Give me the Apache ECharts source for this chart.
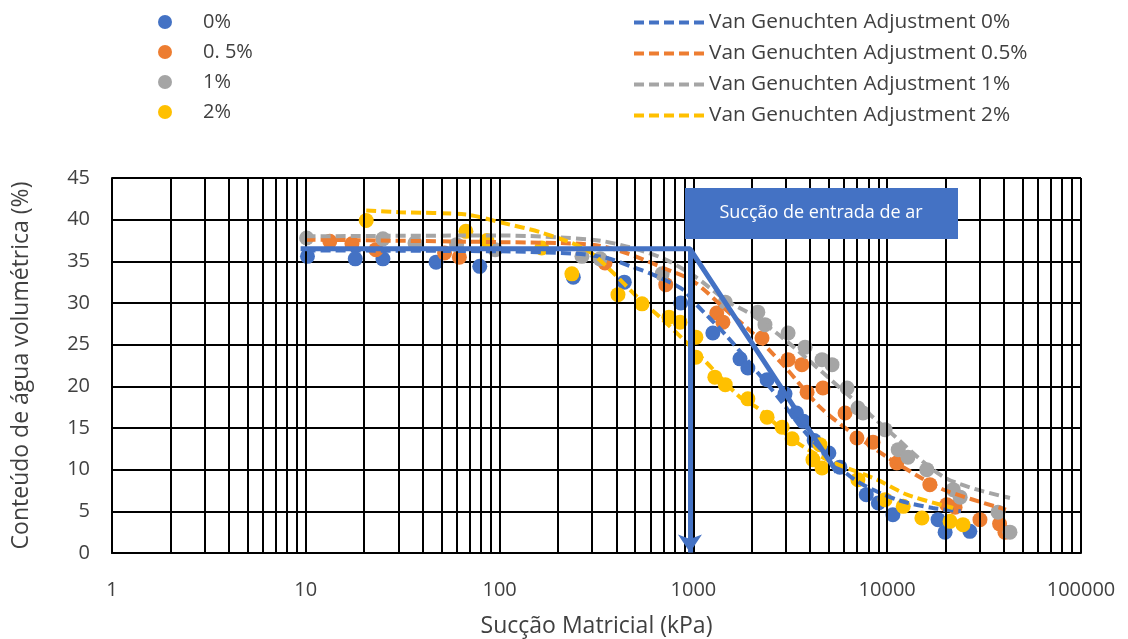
<!DOCTYPE html>
<html>
<head>
<meta charset="utf-8">
<script src="https://cdn.jsdelivr.net/npm/echarts@6/dist/echarts.min.js"></script>
<style>
html,body{margin:0;padding:0;background:#fff;}
#chart{width:1128px;height:639px;}
</style>
</head>
<body>
<div id="chart"></div>
<script>
// ---------- data (suction kPa, volumetric water content %) ----------
const seriesNames = ['0%', '0. 5%', '1%', '2%'];
const fitNames = ['Van Genuchten Adjustment 0%', 'Van Genuchten Adjustment 0.5%', 'Van Genuchten Adjustment 1%', 'Van Genuchten Adjustment 2%'];

const pts0 = [[10.2,35.6],[18,35.3],[25,35.3],[47,34.9],[79,34.4],[240,33.1],[440,32.5],[860,30.0],[1260,26.4],[1740,23.3],[1910,22.2],[2400,20.8],[2970,19.1],[3400,16.8],[3700,15.8],[4200,13.5],[5000,12.0],[5700,10.3],[7800,7.0],[9000,6.0],[10700,4.6],[18300,4.0],[19900,2.5],[26700,2.6]];
const pts05 = [[13.3,37.4],[17.3,37.1],[23,36.4],[52,36.0],[62,35.5],[350,34.8],[720,32.2],[1320,28.8],[1420,27.7],[2260,25.8],[3080,23.2],[3630,22.6],[3860,19.3],[4660,19.8],[6060,16.8],[6980,13.8],[8450,13.3],[11200,10.8],[16600,8.2],[20300,5.8],[22400,5.5],[30100,4.0],[38000,3.5],[40500,2.5]];
const pts1 = [[10.1,37.8],[25,37.7],[36.6,37.2],[60,37.0],[95,36.4],[266,35.6],[330,35.3],[690,33.5],[1460,30.1],[2150,28.9],[2340,27.4],[3080,26.4],[3770,24.7],[4610,23.2],[5190,22.6],[6210,19.8],[7060,17.4],[7500,16.8],[9750,14.8],[11400,12.4],[12800,11.5],[16000,10.0],[21900,7.6],[23800,6.7],[37300,4.9],[43000,2.5]];
const pts2 = [[20.5,39.9],[67,38.6],[86,37.5],[165,36.6],[236,33.5],[408,31.0],[543,29.9],[748,28.3],[853,27.7],[1030,25.9],[1030,23.5],[1290,21.1],[1460,20.2],[1910,18.5],[2400,16.3],[2870,15.1],[3230,13.7],[4140,11.2],[4500,13.0],[4610,10.2],[7060,8.8],[9750,6.4],[12100,5.6],[15100,4.2],[21100,3.8],[24600,3.4]];

const fit0 = [[10,36.3],[100,36.2],[250,35.9],[358,35.4],[488,34.3],[619,33.4],[884,31.6],[1000,30.2],[1490,26.0],[2000,22.5],[2800,18.4],[3680,14.8],[5000,11.5],[7000,8.6],[11250,6.4],[17200,5.4],[24000,5.0]];
const fit05 = [[10,37.6],[100,37.3],[300,37.0],[450,36.0],[700,34.2],[1000,32.6],[1500,29.0],[2000,26.5],[3000,22.2],[4500,17.5],[6500,14.5],[10000,11.5],[15000,9.0],[20000,7.5],[41000,5.2]];
const fit1 = [[10,38.0],[100,38.1],[300,37.6],[450,36.8],[690,35.4],[1000,33.3],[1500,30.2],[2000,28.6],[3000,25.5],[5000,21.0],[7000,18.0],[10000,14.8],[20000,9.0],[43000,6.6]];
const fit2 = [[20.5,41.1],[30.6,40.9],[67.7,40.6],[100,39.7],[167,38.4],[280,36.4],[371,34.0],[530,30.4],[672,28.3],[927,25.2],[1175,22.8],[1740,18.7],[2207,17.2],[3265,13.6],[4890,11.2],[8850,8.8],[12650,7.0],[21870,5.4]];

// air-entry construction (solid blue) and arrow
const airEntryLine = [[9.4,36.5],[960,36.5],[5500,9.7]];
const airEntryArrow = [[960,36.5],[960,0.05]];
const airEntryLabel = 'Sucção de entrada de ar';

// axis settings
const xMin = 1, xMax = 100000;
const yMin = 0, yMax = 45, yStep = 5;

// log grid lines 1..9 x 10^k
const xGridValues = [];
for (let p = 1; p < xMax; p *= 10) { for (let m = 1; m <= 9; m++) xGridValues.push(m * p); }
xGridValues.push(xMax);

const colors = ['#4472C4', '#ED7D31', '#A5A5A5', '#FFC000'];
const FONT = 'Open Sans';
const TXT = '#404040';

const chart = echarts.init(document.getElementById('chart'), null, {renderer: 'canvas'});

const pts = [pts0, pts05, pts1, pts2];
const fits = [fit0, fit05, fit1, fit2];

const series = [];
series.push({
  type: 'line', name: '_grid', data: [], z: 0, silent: true,
  markLine: {
    silent: true, symbol: ['none','none'], label: {show: false}, animation: false,
    lineStyle: {color: '#000', width: 2, type: 'solid'},
    data: xGridValues.map(v => ({xAxis: v}))
  }
});
pts.forEach((d, i) => series.push({
  type: 'scatter', name: seriesNames[i], data: d, symbol: 'circle', symbolSize: 15,
  itemStyle: {color: colors[i], opacity: 1}, z: 3
}));
fits.forEach((d, i) => series.push({
  type: 'line', name: fitNames[i], data: d, symbol: 'none', showSymbol: false, smooth: 0.3,
  lineStyle: {color: colors[i], width: 4, type: [10, 5]}, itemStyle: {color: colors[i]}, z: 4
}));
series.push({
  type: 'line', name: '_air', data: airEntryLine, symbol: 'none', showSymbol: false,
  lineStyle: {color: '#4472C4', width: 5}, z: 5, silent: true
});
series.push({
  type: 'line', name: '_arrow', data: [], z: 5, silent: true,
  markLine: {
    silent: true, animation: false, symbol: ['none', 'arrow'], symbolSize: [18, 18],
    label: {show: false},
    lineStyle: {color: '#4472C4', width: 5, type: 'solid'},
    data: [[{coord: airEntryArrow[0]}, {coord: airEntryArrow[1]}]]
  }
});

chart.setOption({
  animation: false,
  textStyle: {fontFamily: FONT},
  grid: {left: 112, right: 47, top: 178, bottom: 86, containLabel: false, outerBoundsMode: 'none'},
  legend: [
    {
      data: seriesNames, orient: 'vertical', left: 153, top: 7,
      itemWidth: 14, itemHeight: 14, itemGap: 10,
      textStyle: {fontFamily: FONT, fontSize: 20, color: TXT, lineHeight: 20, padding: [0,0,0,26]}
    },
    {
      data: fitNames, orient: 'vertical', left: 627, top: 7,
      itemWidth: 70, itemHeight: 14, itemGap: 10,
      itemStyle: {opacity: 0},
      lineStyle: {width: 4},
      textStyle: {fontFamily: FONT, fontSize: 20.8, color: TXT, lineHeight: 20}
    }
  ],
  xAxis: {
    type: 'log', logBase: 10, min: xMin, max: xMax,
    name: 'Sucção Matricial (kPa)', nameLocation: 'middle', nameGap: 62,
    nameTextStyle: {fontFamily: FONT, fontSize: 23, color: TXT},
    axisLine: {show: true, lineStyle: {color: '#000', width: 2}},
    axisTick: {show: false},
    axisLabel: {fontFamily: FONT, fontSize: 20, color: TXT, margin: 27, formatter: v => String(v)},
    splitLine: {show: false}
  },
  yAxis: {
    type: 'value', min: yMin, max: yMax, interval: yStep,
    name: 'Conteúdo de água volumétrica (%)', nameLocation: 'middle', nameGap: 79,
    nameTextStyle: {fontFamily: FONT, fontSize: 23, color: TXT},
    axisLine: {show: true, lineStyle: {color: '#000', width: 2}},
    axisTick: {show: false},
    axisLabel: {fontFamily: FONT, fontSize: 20, color: TXT, margin: 22},
    splitLine: {show: true, lineStyle: {color: '#000', width: 2}}
  },
  graphic: [
    {type: 'rect', left: 685, top: 188, shape: {width: 273, height: 51}, style: {fill: '#4472C4'}, z: 10},
    {type: 'text', x: 821, y: 213, z: 11,
     style: {text: airEntryLabel, fill: '#fff', font: '18px "Open Sans"', align: 'center', verticalAlign: 'middle'}}
  ],
  series: series
});
</script>
</body>
</html>
